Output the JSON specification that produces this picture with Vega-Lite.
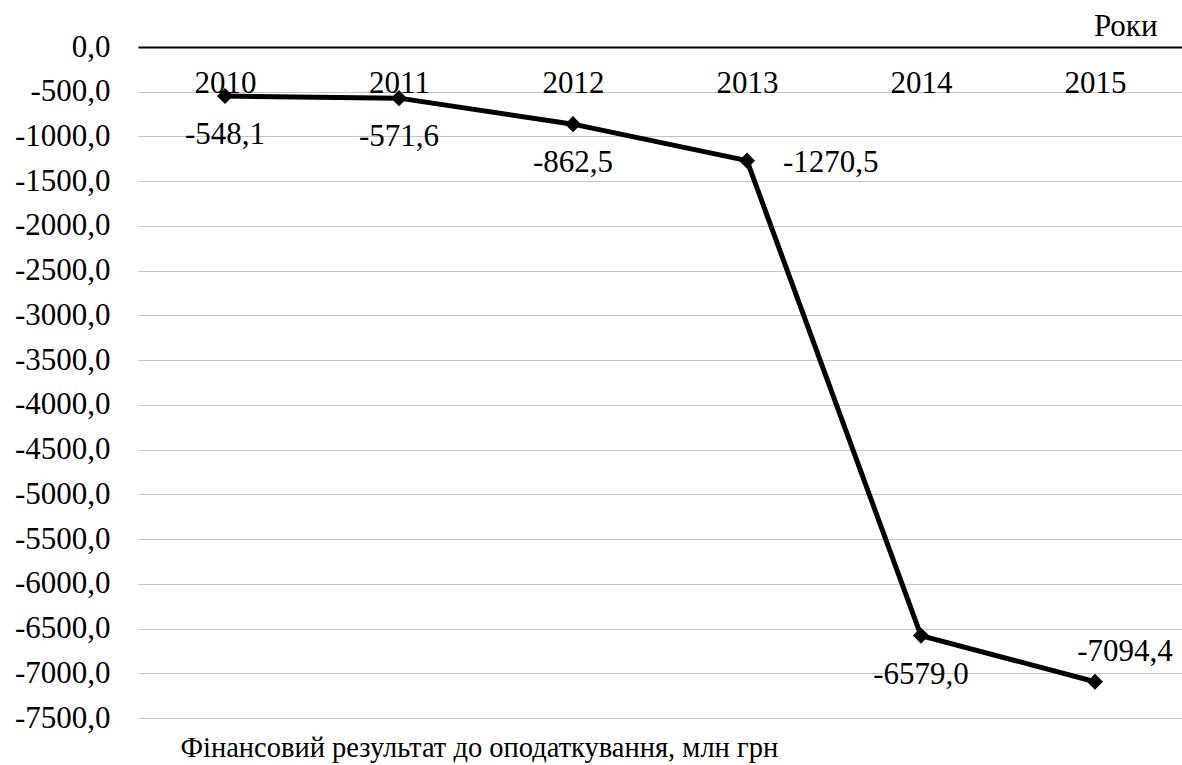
{
  "$schema": "https://vega.github.io/schema/vega-lite/v6.json",
  "autosize": "none",
  "padding": {"left": 138, "top": 47, "right": 0, "bottom": 47},
  "width": 1044,
  "height": 671,
  "background": "white",
  "config": {
    "locale": {"number": {"decimal": ",", "thousands": "", "grouping": [3], "currency": ["", ""], "minus": "-"}},
    "font": "Liberation Serif",
    "view": {"stroke": null},
    "axis": {"labelFont": "Liberation Serif", "titleFont": "Liberation Serif", "labelColor": "black", "titleColor": "black"},
    "text": {"font": "Liberation Serif", "fontSize": 31, "color": "black"}
  },
  "data": {
    "values": [
      {"year": "2010", "value": -548.1},
      {"year": "2011", "value": -571.6},
      {"year": "2012", "value": -862.5},
      {"year": "2013", "value": -1270.5},
      {"year": "2014", "value": -6579.0},
      {"year": "2015", "value": -7094.4}
    ]
  },
  "encoding": {
    "x": {
      "field": "year",
      "type": "ordinal",
      "scale": {"type": "point", "padding": 0.5},
      "axis": {
        "orient": "top",
        "title": "Роки",
        "titleFont": "Liberation Serif",
        "titleFontSize": 31,
        "titleFontWeight": "normal",
        "titleAlign": "right",
        "titleBaseline": "alphabetic",
        "titleX": 1019,
        "titleY": -12,
        "labelAngle": 0,
        "labelFont": "Liberation Serif",
        "labelFontSize": 31,
        "labelBaseline": "middle",
        "labelPadding": -36.5,
        "ticks": false,
        "tickSize": 0,
        "domainColor": "black",
        "domainWidth": 2,
        "grid": false
      }
    },
    "y": {
      "field": "value",
      "type": "quantitative",
      "scale": {"domain": [-7500, 0], "nice": false, "zero": false},
      "axis": {
        "values": [0, -500, -1000, -1500, -2000, -2500, -3000, -3500, -4000, -4500, -5000, -5500, -6000, -6500, -7000, -7500],
        "format": ".1f",
        "labelFont": "Liberation Serif",
        "labelFontSize": 31,
        "labelPadding": 28,
        "ticks": false,
        "domain": false,
        "grid": true,
        "gridColor": "#c4c4c4",
        "gridWidth": 1.2,
        "title": "Фінансовий результат до оподаткування, млн грн",
        "titleFont": "Liberation Serif",
        "titleFontSize": 28.5,
        "titleFontWeight": "normal",
        "titleAngle": 0,
        "titleAlign": "left",
        "titleBaseline": "alphabetic",
        "titleX": 42,
        "titleY": 709
      }
    }
  },
  "layer": [
    {"mark": {"type": "line", "color": "black", "strokeWidth": 5}},
    {"mark": {"type": "point", "shape": "diamond", "filled": true, "color": "black", "size": 260, "opacity": 1}},
    {
      "transform": [{"filter": "indexof(['2010','2011','2012','2014'], datum.year) >= 0"}],
      "mark": {"type": "text", "font": "Liberation Serif", "fontSize": 31, "align": "center", "baseline": "middle", "dy": 39},
      "encoding": {"text": {"field": "value", "type": "quantitative", "format": ".1f"}}
    },
    {
      "transform": [{"filter": "datum.year == '2013'"}],
      "mark": {"type": "text", "font": "Liberation Serif", "fontSize": 31, "align": "left", "baseline": "middle", "dx": 36, "dy": 2},
      "encoding": {"text": {"field": "value", "type": "quantitative", "format": ".1f"}}
    },
    {
      "transform": [{"filter": "datum.year == '2015'"}],
      "mark": {"type": "text", "font": "Liberation Serif", "fontSize": 31, "align": "center", "baseline": "middle", "dx": 30, "dy": -30},
      "encoding": {"text": {"field": "value", "type": "quantitative", "format": ".1f"}}
    }
  ]
}
